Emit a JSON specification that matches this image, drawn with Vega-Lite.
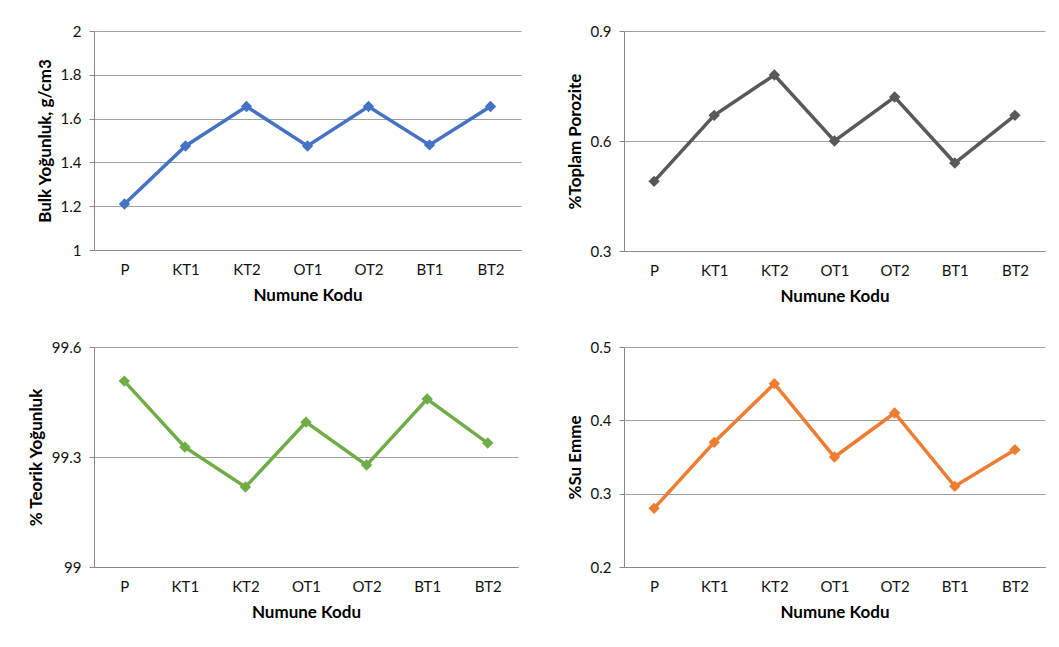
{
  "$schema": "https://vega.github.io/schema/vega-lite/v6.json",
  "background": "white",
  "padding": {"top": 24, "left": 27, "right": 5, "bottom": 5},
  "datasets": {
    "d": [
      {"kod": "P", "bulk": 1.21, "poro": 0.49, "teorik": 99.507, "su": 0.28},
      {"kod": "KT1", "bulk": 1.475, "poro": 0.67, "teorik": 99.327, "su": 0.37},
      {"kod": "KT2", "bulk": 1.655, "poro": 0.78, "teorik": 99.218, "su": 0.45},
      {"kod": "OT1", "bulk": 1.475, "poro": 0.6, "teorik": 99.395, "su": 0.35},
      {"kod": "OT2", "bulk": 1.655, "poro": 0.72, "teorik": 99.278, "su": 0.41},
      {"kod": "BT1", "bulk": 1.48, "poro": 0.54, "teorik": 99.458, "su": 0.31},
      {"kod": "BT2", "bulk": 1.655, "poro": 0.67, "teorik": 99.338, "su": 0.36}
    ]
  },
  "columns": 2,
  "align": "none",
  "spacing": {"row": 36, "column": 45},
  "concat": [
    {
      "width": 427, "height": 219,
      "data": {"name": "d"},
      "encoding": {
        "x": {"field": "kod", "type": "nominal", "sort": null, "scale": {"type": "point", "padding": 0.5}, "title": "Numune Kodu"},
        "y": {"field": "bulk", "type": "quantitative", "scale": {"domain": [1, 2], "nice": false, "zero": false}, "axis": {"values": [1, 1.2, 1.4, 1.6, 1.8, 2], "format": "~g"}, "title": "Bulk Yoğunluk, g/cm3"}
      },
      "layer": [
        {"mark": {"type": "line", "color": "#4472C4", "strokeWidth": 3.5}},
        {"mark": {"type": "point", "shape": "diamond", "filled": true, "opacity": 1, "size": 130, "color": "#4472C4"}}
      ]
    },
    {
      "width": 421, "height": 220,
      "data": {"name": "d"},
      "encoding": {
        "x": {"field": "kod", "type": "nominal", "sort": null, "scale": {"type": "point", "padding": 0.5}, "title": "Numune Kodu"},
        "y": {"field": "poro", "type": "quantitative", "scale": {"domain": [0.3, 0.9], "nice": false, "zero": false}, "axis": {"values": [0.3, 0.6, 0.9], "format": "~g"}, "title": "%Toplam Porozite"}
      },
      "layer": [
        {"mark": {"type": "line", "color": "#595959", "strokeWidth": 3.5}},
        {"mark": {"type": "point", "shape": "diamond", "filled": true, "opacity": 1, "size": 130, "color": "#595959"}}
      ]
    },
    {
      "width": 424, "height": 220,
      "data": {"name": "d"},
      "encoding": {
        "x": {"field": "kod", "type": "nominal", "sort": null, "scale": {"type": "point", "padding": 0.5}, "title": "Numune Kodu"},
        "y": {"field": "teorik", "type": "quantitative", "scale": {"domain": [99, 99.6], "nice": false, "zero": false}, "axis": {"values": [99, 99.3, 99.6], "format": "~g"}, "title": "% Teorik Yoğunluk"}
      },
      "layer": [
        {"mark": {"type": "line", "color": "#70AD47", "strokeWidth": 3.5}},
        {"mark": {"type": "point", "shape": "diamond", "filled": true, "opacity": 1, "size": 130, "color": "#70AD47"}}
      ]
    },
    {
      "width": 421, "height": 220,
      "data": {"name": "d"},
      "encoding": {
        "x": {"field": "kod", "type": "nominal", "sort": null, "scale": {"type": "point", "padding": 0.5}, "title": "Numune Kodu"},
        "y": {"field": "su", "type": "quantitative", "scale": {"domain": [0.2, 0.5], "nice": false, "zero": false}, "axis": {"values": [0.2, 0.3, 0.4, 0.5], "format": "~g"}, "title": "%Su Emme"}
      },
      "layer": [
        {"mark": {"type": "line", "color": "#ED7D31", "strokeWidth": 3.5}},
        {"mark": {"type": "point", "shape": "diamond", "filled": true, "opacity": 1, "size": 130, "color": "#ED7D31"}}
      ]
    }
  ],
  "config": {
    "font": "Lato",
    "view": {"stroke": null},
    "axis": {
      "labelFont": "Lato", "labelFontSize": 15, "labelColor": "#111",
      "titleFont": "Lato", "titleFontSize": 17, "titleFontWeight": "bold", "titleColor": "#000",
      "domainColor": "#888", "gridColor": "#a0a0a0", "tickColor": "#888"
    },
    "axisX": {"ticks": false, "grid": false, "labelAngle": 0, "labelPadding": 12, "titlePadding": 10},
    "axisY": {"grid": true, "tickSize": 5, "labelPadding": 8, "titlePadding": 6}
  }
}
